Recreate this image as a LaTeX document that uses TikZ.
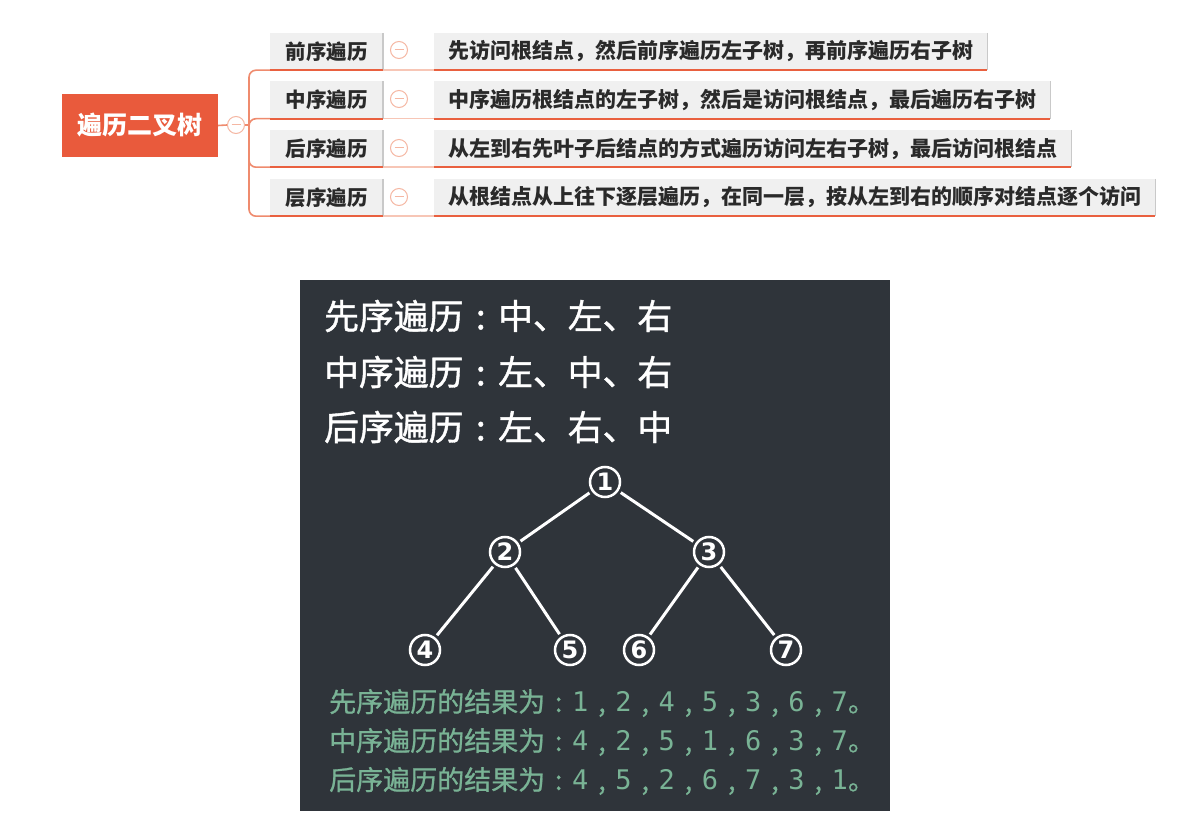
\documentclass[tikz,border=0pt]{standalone}
\usepackage{fontspec}
\newfontfamily\cjk{Noto Sans CJK SC}
\newfontfamily\cjkm{Noto Sans CJK SC}[FakeBold=1.2]
\newfontfamily\cjkg{Noto Sans CJK SC}[FakeBold=0.8]
\newfontfamily\monof{DejaVu Sans Mono}
\newfontfamily\dejav{DejaVu Sans}
\newcommand\digm[1]{{\monof #1}}
\newcommand\ccol{\makebox[1em]{:}}
\newcommand\ccom{\makebox[1em]{,}}
\definecolor{rootred}{HTML}{E95A3C}
\definecolor{branchc}{HTML}{EF8B6E}
\definecolor{ulinec}{HTML}{E9603F}
\definecolor{boxgrey}{HTML}{F0F0F0}
\definecolor{shadowc}{HTML}{C9C9C9}
\definecolor{minusc}{HTML}{F5B7A3}
\definecolor{linkc}{HTML}{F7C6B6}
\definecolor{textdark}{HTML}{2A2A2A}
\definecolor{panelc}{HTML}{2F343A}
\definecolor{greenc}{HTML}{79B395}
\tikzset{
  rootbox/.style={fill=rootred, text=white, minimum width=156pt, minimum height=63pt, inner sep=0pt, font=\cjk\bfseries\fontsize{25}{30}\selectfont},
  minus/.style={circle, draw=minusc, fill=white, line width=1pt, minimum size=17pt, inner sep=0pt,
    path picture={\draw[minusc, line width=1pt] ([xshift=-4.5pt]path picture bounding box.center) -- ([xshift=4.5pt]path picture bounding box.center);}},
  branch/.style={draw=branchc, line width=1.6pt, rounded corners=7pt},
  labbox/.style={fill=boxgrey, text=textdark, minimum width=113pt, minimum height=37pt, inner sep=0pt, font=\cjk\bfseries\fontsize{20.5}{24}\selectfont},
  descbox/.style={fill=boxgrey, text=textdark, minimum height=37pt, inner xsep=14pt, inner ysep=0pt, anchor=west, font=\cjk\bfseries\fontsize{21}{24}\selectfont},
  uline/.style={draw=ulinec, line width=2pt},
  shadowline/.style={draw=shadowc, line width=1.6pt},
  linkline/.style={draw=linkc, line width=1.6pt},
  panelbox/.style={fill=panelc, minimum width=590pt, minimum height=531pt, inner sep=0pt},
  whitetext/.style={anchor=west, text=white, inner sep=0pt, font=\cjkm\fontsize{34.8}{40}\selectfont},
  greentext/.style={anchor=west, text=greenc, inner sep=0pt, font=\cjkg\fontsize{27}{32}\selectfont},
  treenode/.style={circle, draw=white, line width=2.5pt, minimum size=30pt, inner sep=0pt, outer sep=4pt, text=white, font=\dejav\bfseries\fontsize{24}{26}\selectfont},
  treeedge/.style={draw=white, line width=3pt}
}
\begin{document}
\begin{tikzpicture}[x=1pt,y=-1pt]
\useasboundingbox[fill=white] (0,0) rectangle (1192,829);
% ---------- mind map ----------
\node[rootbox] (root) at (140,125.5) {遍历二叉树};
\node[minus] (rc) at (236,125) {};
\draw[branch] (root.east) -- (rc.west);
\coordinate (fork) at (249,125);
\node[labbox] (l1) at (326.5,51.5) {前序遍历};
\node[labbox] (l2) at (326.5,100) {中序遍历};
\node[labbox] (l3) at (326.5,148.5) {后序遍历};
\node[labbox] (l4) at (326.5,197.5) {层序遍历};
\draw[branch] (rc.east) -- (fork);
\foreach \l in {l1,l2,l3,l4}{
  \draw[branch] (fork) |- (\l.south west);
}
\node[descbox] (d1) at (434,51.5) {先访问根结点，然后前序遍历左子树，再前序遍历右子树};
\node[descbox] (d2) at (434,100) {中序遍历根结点的左子树，然后是访问根结点，最后遍历右子树};
\node[descbox] (d3) at (434,148.5) {从左到右先叶子后结点的方式遍历访问左右子树，最后访问根结点};
\node[descbox] (d4) at (434,197.5) {从根结点从上往下逐层遍历，在同一层，按从左到右的顺序对结点逐个访问};
\foreach \i/\y in {1/50,2/99,3/148,4/197}{
  \draw[linkline] (l\i.south east) -- (d\i.south west);
  \draw[shadowline] (l\i.north east) -- (l\i.south east);
  \draw[shadowline] (d\i.north east) -- (d\i.south east);
  \draw[uline] (l\i.south west) -- (l\i.south east);
  \draw[uline] (d\i.south west) -- (d\i.south east);
  \node[minus] (m\i) at (399,\y) {};
}
% ---------- dark panel ----------
\node[panelbox] (panel) at (595,545.5) {};
\node[whitetext] (w1) at (324,316) {先序遍历\ccol 中、左、右};
\node[whitetext] (w2) at (324,372) {中序遍历\ccol 左、中、右};
\node[whitetext] (w3) at (324,427) {后序遍历\ccol 左、右、中};
% tree
\node[treenode] (n1) at (605,482) {1};
\node[treenode] (n2) at (505,552) {2};
\node[treenode] (n3) at (709,552) {3};
\node[treenode] (n4) at (425,650) {4};
\node[treenode] (n5) at (570,650) {5};
\node[treenode] (n6) at (639,650) {6};
\node[treenode] (n7) at (786,650) {7};
\draw[treeedge] (n1) -- (n2);
\draw[treeedge] (n1) -- (n3);
\draw[treeedge] (n2) -- (n4);
\draw[treeedge] (n2) -- (n5);
\draw[treeedge] (n3) -- (n6);
\draw[treeedge] (n3) -- (n7);
% results
\node[greentext] (g1) at (329,703) {先序遍历的结果为\ccol\digm{1}\ccom\digm{2}\ccom\digm{4}\ccom\digm{5}\ccom\digm{3}\ccom\digm{6}\ccom\digm{7}。};
\node[greentext] (g2) at (329,742) {中序遍历的结果为\ccol\digm{4}\ccom\digm{2}\ccom\digm{5}\ccom\digm{1}\ccom\digm{6}\ccom\digm{3}\ccom\digm{7}。};
\node[greentext] (g3) at (329,781) {后序遍历的结果为\ccol\digm{4}\ccom\digm{5}\ccom\digm{2}\ccom\digm{6}\ccom\digm{7}\ccom\digm{3}\ccom\digm{1}。};
\end{tikzpicture}
\end{document}
